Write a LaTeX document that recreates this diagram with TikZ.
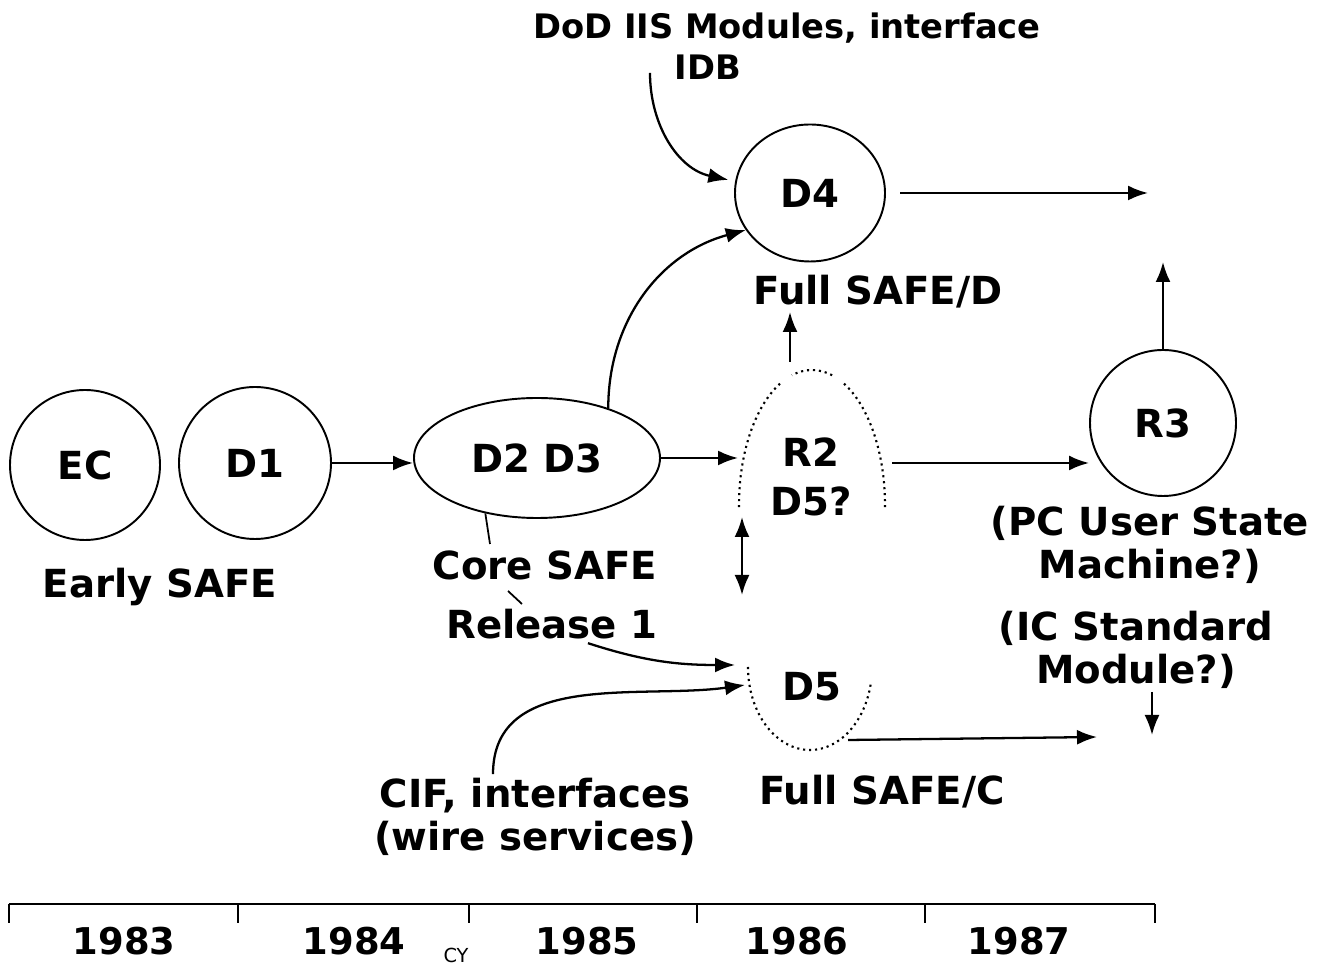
\documentclass[tikz,border=0pt]{standalone}
\usepackage{fontspec}
\setmainfont{DejaVu Sans}
\usetikzlibrary{arrows.meta, positioning, calc, shapes.geometric}

\tikzset{
  %% ── Milestones ───────────────────────────────────────────────────────
  bulle/.style       = {draw, line width=0.55pt, circle, minimum size=1.5cm,
                        inner sep=0pt, font=\fontsize{11}{13}\selectfont\bfseries},
  bulleOvale/.style  = {bulle, ellipse},
  %% open outlines of the tentative releases
  pointille/.style   = {line width=0.6pt, dash pattern=on 0.6pt off 1.1pt},
  %%
  %% ── Arrows ───────────────────────────────────────────────────────────
  fleche/.style      = {-{Latex[length=2mm, width=1.5mm]}, line width=0.65pt},
  flecheDouble/.style = {{Latex[length=2mm, width=1.5mm]}-{Latex[length=2mm, width=1.5mm]},
                        line width=0.65pt},
  renvoi/.style      = {line width=0.5pt},
  %%
  %% ── Text ─────────────────────────────────────────────────────────────
  etiquette/.style   = {font=\fontsize{11}{12.2}\selectfont\bfseries, align=center,
                        inner sep=1pt},
  etiquetteHaut/.style = {etiquette, font=\fontsize{9.6}{11}\selectfont\bfseries},
  annee/.style       = {font=\fontsize{10.5}{12}\selectfont\bfseries, inner sep=1pt},
}

\begin{document}
\begin{tikzpicture}[x=1cm, y=1cm]

\useasboundingbox (0,0) rectangle (13.22,9.70);

%% milestones
\node[bulle] (ec) at (0.85,5.05) {EC};
\node[bulle, minimum size=1.52cm] (d1) at (2.55,5.07) {D1};
\node[bulleOvale, minimum width=2.46cm, minimum height=1.20cm] (d23) at (5.37,5.12) {D2 D3};
\node[bulleOvale, minimum width=1.50cm, minimum height=1.37cm] (d4) at (8.10,7.77) {D4};
\node[bulle, minimum size=1.46cm] (r3) at (11.63,5.47) {R3};

%% tentative releases, only partly outlined
\coordinate (r2c) at (8.12,4.65);
\coordinate (d5c) at (8.10,3.03);
\node[etiquette, font=\fontsize{11}{14}\selectfont\bfseries] (r2) at (8.11,4.93) {R2\\D5?};
\node[etiquette] (d5) at (8.12,2.83) {D5};

\draw[pointille, shift={(r2c)}] (74:0.73 and 1.35)
     arc[start angle=74, end angle=106, x radius=0.73, y radius=1.35];
\draw[pointille, shift={(r2c)}] (116:0.73 and 1.35)
     arc[start angle=116, end angle=181, x radius=0.73, y radius=1.35];
\draw[pointille, shift={(r2c)}] (64:0.73 and 1.35)
     arc[start angle=64, end angle=-1, x radius=0.73, y radius=1.35];
\draw[pointille, shift={(d5c)}] (180:0.62 and 0.83)
     arc[start angle=180, end angle=350, x radius=0.62, y radius=0.83];

%% captions
\node[etiquetteHaut] (dod) at (7.87,9.42) {DoD IIS Modules, interface};
\node[etiquetteHaut] (idb) at (7.08,9.03) {IDB};
\node[etiquette] (fullD) at (8.78,6.78) {Full SAFE/D};
\node[etiquette] (early) at (1.60,3.83) {Early SAFE};
\node[etiquette] (core) at (5.45,4.05) {Core SAFE};
\node[etiquette] (rel) at (5.52,3.46) {Release 1};
\node[etiquette] (pc) at (11.50,4.25) {(PC User State\\Machine?)};
\node[etiquette] (ic) at (11.36,3.20) {(IC Standard\\Module?)};
\node[etiquette] (cif) at (5.35,1.53) {CIF, interfaces\\(wire services)};
\node[etiquette] (fullC) at (8.82,1.78) {Full SAFE/C};

%% free ends
\coordinate (idbPied) at (6.50,8.97);
\coordinate (d4Fin) at (11.48,7.77);
\coordinate (r3Fin) at (11.63,7.08);
\coordinate (r2Haut) at (7.90,6.08);
\coordinate (fullDPied) at (7.90,6.58);
\coordinate (r2Entree) at (7.38,5.12);
\coordinate (r2Sortie) at (8.92,5.07);
\coordinate (echA) at (7.42,4.53);
\coordinate (echB) at (7.42,3.75);
\coordinate (d5EntreeA) at (7.35,3.05);
\coordinate (d5EntreeB) at (7.45,2.85);
\coordinate (d5Sortie) at (8.48,2.30);
\coordinate (d5Fin) at (10.97,2.33);
\coordinate (icPied) at (11.52,2.78);
\coordinate (icFin) at (11.52,2.35);
\coordinate (coreTete) at (4.90,4.26);
\coordinate (coreBas) at (5.08,3.79);
\coordinate (relTete) at (5.22,3.66);

\draw[fleche] (d1.east) -- (d1.east -| d23.west);
\draw[fleche] (d23.east) -- (r2Entree);
\draw[fleche] (d23.35) to[out=90, in=195] (d4.210);
\draw[fleche] (idbPied) to[out=-90, in=168] ([xshift=-2pt]d4.170);
\draw[fleche] ([xshift=4pt]d4.east) -- (d4Fin);
\draw[fleche] (r3.north) -- (r3.north |- r3Fin);
\draw[fleche] (r2Haut) -- (fullDPied);
\draw[fleche] (r2Sortie) -- (r2Sortie -| r3.west);
\draw[flecheDouble] (echA) -- (echB);
\draw[fleche] ([xshift=0.36cm]rel.south) to[out=-18, in=180] (d5EntreeA);
\draw[fleche] ([xshift=-0.42cm]cif.north) to[out=90, in=188] (d5EntreeB);
\draw[fleche] (d5Sortie) -- (d5Fin);
\draw[fleche] (icPied) -- (icFin);

\draw[renvoi] (d23.227) -- (coreTete);
\draw[renvoi] (coreBas) -- (relTete);

%% calendar years
\draw[renvoi] (0.09,0.66) -- (11.55,0.66);
\foreach \x in {0.09, 2.38, 4.69, 6.97, 9.25, 11.55}
  \draw[renvoi] (\x,0.66) -- (\x,0.47);
\foreach \an/\x in {1983/1.24, 1984/3.54, 1985/5.87, 1986/7.97, 1987/10.19}
  \node[annee] (an\an) at (\x,0.29) {\an};
\node[font=\fontsize{5.5}{6}\selectfont, inner sep=0pt] (cy) at (4.56,0.15) {CY};

\end{tikzpicture}
\end{document}
